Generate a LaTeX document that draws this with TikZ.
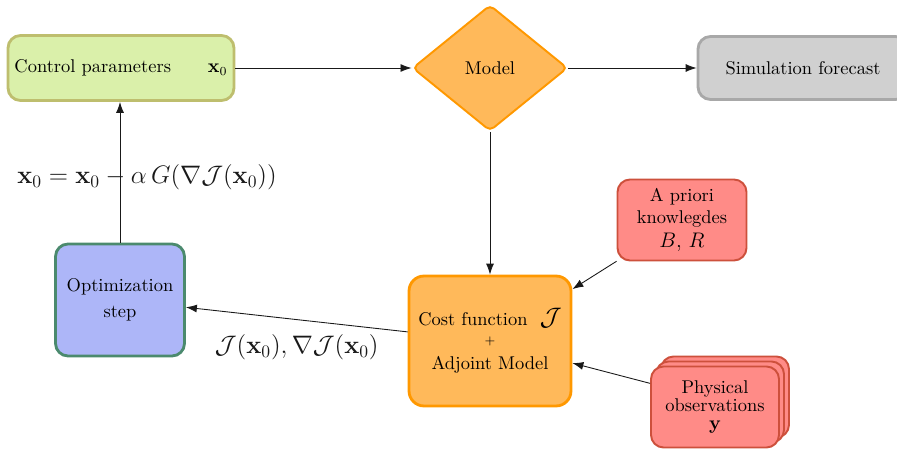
\documentclass[tikz,border=0pt]{standalone}
\usepackage{amsmath,amssymb}
\usetikzlibrary{arrows.meta,shapes.geometric,shadows}

\definecolor{ctrlfill}{RGB}{218,240,170}
\definecolor{ctrlline}{RGB}{190,190,110}
\definecolor{orfill}{RGB}{255,185,90}
\definecolor{orline}{RGB}{255,152,0}
\definecolor{simfill}{RGB}{208,208,208}
\definecolor{simline}{RGB}{168,168,168}
\definecolor{redfill}{RGB}{255,139,135}
\definecolor{redline}{RGB}{205,80,60}
\definecolor{optfill}{RGB}{173,182,248}
\definecolor{optline}{RGB}{75,138,110}

\begin{document}
\begin{tikzpicture}[x=0.02cm,y=-0.02cm,
  every node/.style={font=\fontsize{10.5pt}{12.5pt}\selectfont},
  box/.style={rectangle,rounded corners=0.25cm,align=center,line width=1.6pt},
  arr/.style={black!90,line width=0.5pt,-{Latex[length=2.2mm,width=1.6mm]}}]
  \useasboundingbox (0,0) rectangle (897,449);
  % top row
  \node [box,draw=ctrlline,fill=ctrlfill,minimum width=4.52cm,minimum height=1.3cm] (ctrl) at (121,68)
    {Control parameters\qquad$\mathbf{x}_0$};
  \node [diamond,draw=orline,fill=orfill,line width=1.1pt,rounded corners=0.1cm,
    minimum width=3.1cm,minimum height=2.52cm,inner sep=0pt] (model) at (490,68) {Model};
  \node [box,draw=simline,fill=simfill,minimum width=4.2cm,minimum height=1.26cm] (sim) at (803,68)
    {Simulation forecast};
  % lower part
  \node [box,draw=orline,fill=orfill,rounded corners=0.3cm,minimum width=3.24cm,minimum height=2.6cm] (cost) at (490,341)
    {Cost function\ \ {\Large$\mathcal{J}$}\\[-2pt] {\scriptsize$+$}\\[2pt] Adjoint Model};
  \node [box,draw=redline,fill=redfill,line width=1.1pt,minimum width=2.58cm,minimum height=1.62cm] (prior) at (682,220)
    {A priori\\ knowlegdes\\[1pt] {\large$B$, $R$}};
  \node [box,draw=redline,fill=redfill,line width=1.1pt,minimum width=2.56cm,minimum height=1.62cm,
    copy shadow={shadow xshift=0.2cm,shadow yshift=0.2cm},
    copy shadow={shadow xshift=0.1cm,shadow yshift=0.1cm}] (obs) at (715,407)
    {Physical\\[-2pt] observations\\[-2pt] $\mathbf{y}$};
  \node [box,draw=optline,fill=optfill,minimum width=2.58cm,minimum height=2.24cm] (opt) at (120,300)
    {Optimization\\[2pt] step};
  % connectors
  \draw [arr] (ctrl) -- (model);
  \draw [arr] (model) -- (sim);
  \draw [arr] (model) -- (cost);
  \draw [arr] (prior) -- (cost);
  \draw [arr] (obs.160) -- (cost.-15);
  \draw [arr] (cost) -- node [below=5pt,font=\Large] {$\mathcal{J}(\mathbf{x}_0), \nabla\mathcal{J}(\mathbf{x}_0)$} (opt);
  \draw [arr] (opt) -- node [xshift=0.54cm,yshift=-0.1cm,font=\Large] {$\mathbf{x}_0 = \mathbf{x}_0 - \alpha\, G(\nabla\mathcal{J}(\mathbf{x}_0))$} (opt |- ctrl.south);
\end{tikzpicture}
\end{document}
